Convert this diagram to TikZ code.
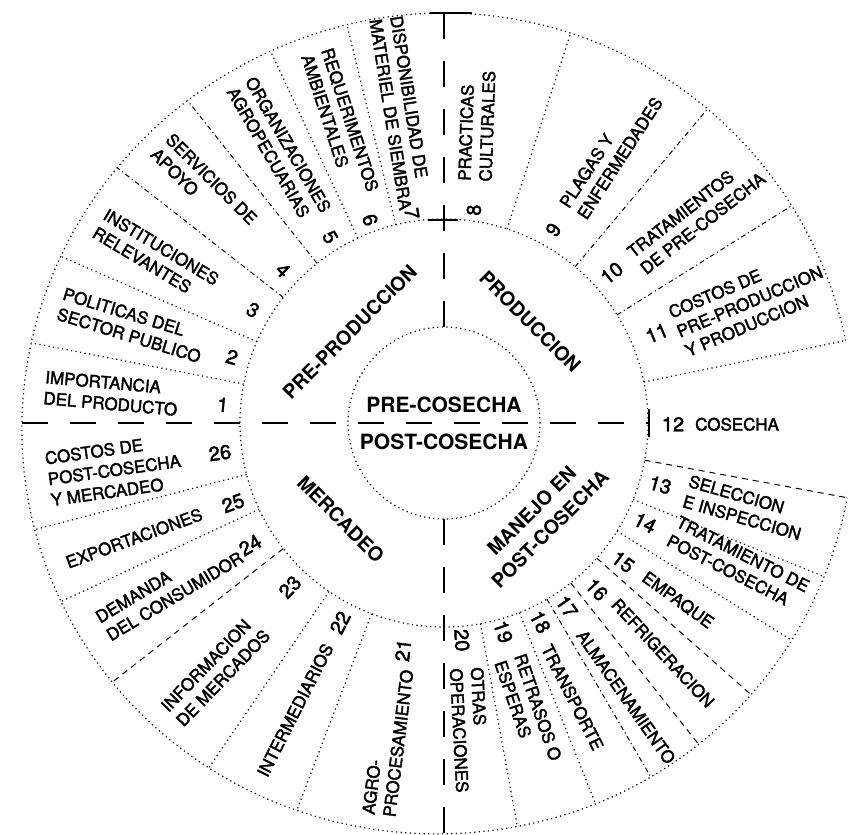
\documentclass[tikz,border=0pt]{standalone}
\usepackage{fontspec}
\setmainfont{TeX Gyre Heros}
\newfontfamily\segf[FakeBold=2]{TeX Gyre Heros}
\begin{document}
\begin{tikzpicture}[x=1pt,y=1pt,
  declare function={Ro(\t)=410+13*(max(0,cos(\t-195)))^2;},
  seg/.style={font=\segf\fontsize{17}{21}\selectfont, inner sep=0pt, align=left},
  num/.style={font=\segf\fontsize{20}{22}\selectfont, inner sep=0pt},
  quad/.style={font=\bfseries\fontsize{19.5}{26}\selectfont, inner sep=0pt, align=center},
  ctr/.style={font=\bfseries\fontsize{21}{24}\selectfont, inner sep=0pt},
  dotl/.style={line width=1.2pt, dash pattern=on 1.2pt off 3.4pt},
  dashl/.style={line width=1pt, dash pattern=on 6pt off 5pt},
  ddl/.style={line width=1pt, dash pattern=on 5pt off 3pt on 1.2pt off 3pt},
  crossl/.style={line width=2pt, dash pattern=on 26pt off 22pt},
  tickl/.style={line width=1.6pt}
]
\useasboundingbox (-444,-412) rectangle (410,423);

% circles
\draw[dotl] (0,0) circle[radius=96];
\draw[dotl] (0,0) circle[radius=204];
\draw[dotl] plot[domain=11.6:349.5, samples=240] (\x:{Ro(\x)});

% radial dividers
\foreach \a/\s in {169/dotl,156.5/dotl,142/ddl,128.5/ddl,115/dotl,103.7/dotl,
  72/dotl,50/ddl,32/ddl,11.6/dotl,-10.5/dashl,-22/dotl,-32/dotl,-41.5/dashl,
  -51.6/dashl,-59.7/ddl,-68.3/dotl,-79.7/dotl,249.2/dotl,235.7/dotl,218/dashl,
  205/dotl,194.6/dotl}
  \draw[\s] (\a:204) -- (\a:{Ro(\a)});

% main cross
\draw[crossl] (180:{Ro(180)}) -- (0:205);
\draw[crossl] (90:96) -- (90:{Ro(90)});
\draw[crossl] (270:96) -- (270:{Ro(270)});
\draw[tickl] (-14,{Ro(90)}) -- (28,{Ro(90)});
\draw[tickl] (-16,203) -- (14,203);
\draw[tickl] (205,-14) -- (205,14);

% centre
\node[ctr] (pre) at (0,18) {PRE-COSECHA};
\node[ctr] (post) at (0,-19) {POST-COSECHA};

% quadrant labels
\node[quad, rotate=45] (qpre) at (136:131) {PRE-PRODUCCION};
\node[quad, rotate=-45] (qpro) at (49.6:133) {PRODUCCION};
\node[quad, rotate=-45] (qmer) at (223:141) {MERCADEO};
\node[quad, rotate=45] (qman) at (-45:137) {MANEJO EN\\POST-COSECHA};

% segments: upper left
\node[seg, rotate=-5] (s1) at (174.9:334) {IMPORTANCIA\\DEL PRODUCTO};
\node[num, rotate=-5] (n1) at (175.3:222) {1};
\node[seg, rotate=-17] (s2) at (162.6:327) {POLITICAS DEL\\SECTOR PUBLICO};
\node[num, rotate=-17] (n2) at (162.7:222) {2};
\node[seg, rotate=-31] (s3) at (149.9:333) {INSTITUCIONES\\RELEVANTES};
\node[num, rotate=-31] (n3) at (149.4:222) {3};
\node[seg, rotate=-45] (s4) at (135.4:337) {SERVICIOS DE\\APOYO};
\node[num, rotate=-45] (n4) at (136.5:222) {4};
\node[seg, rotate=-60] (s5) at (121.1:319) {ORGANIZACIONES\\AGROPECUARIAS};
\node[num, rotate=-60] (n5) at (121.5:218) {5};
\node[seg, rotate=-72] (s6) at (109.1:317.5) {REQUERIMENTOS\\AMBIENTALES};
\node[num, rotate=-72] (n6) at (110:216) {6};
\node[seg, rotate=-81] (s7) at (97.9:313) {DISPONIBILIDAD DE\\MATERIEL DE SIEMBRA};
\node[num, rotate=-81] (n7) at (98.7:212) {7};

% upper right
\node[seg, rotate=88] (s8) at (83.7:299) {PRACTICAS\\CULTURALES};
\node[num, rotate=88] (n8) at (82:215) {8};
\node[seg, rotate=57] (s9) at (58.3:318) {PLAGAS Y\\ENFERMEDADES};
\node[num, rotate=57] (n9) at (60.5:222) {9};
\node[seg, rotate=38] (s10) at (39.5:327) {TRATAMIENTOS\\DE PRE-COSECHA};
\node[num, rotate=38] (n10) at (41.8:225) {10};
\node[seg, rotate=23] (s11) at (21.65:329) {COSTOS DE\\PRE-PRODUCCION\\Y PRODUCCION};
\node[num, rotate=23] (n11) at (22.9:231) {11};
\node[seg, anchor=west] (s12) at (-0.3:251) {COSECHA};
\node[num] (n12) at (-0.3:229) {12};

% lower right
\node[seg, rotate=-16] (s13) at (-15.7:312.6) {SELECCION\\E INSPECCION};
\node[num, rotate=-16] (n13) at (-16:225) {13};
\node[seg, rotate=-27] (s14) at (-25.5:326) {TRATAMIENTO DE\\POST-COSECHA};
\node[num, rotate=-27] (n14) at (-26.4:224.5) {14};
\node[seg, rotate=-36] (s15) at (-37.1:293.4) {EMPAQUE};
\node[num, rotate=-36] (n15) at (-37.8:226.6) {15};
\node[seg, rotate=-47] (s16) at (-46.4:317.6) {REFRIGERACION};
\node[num, rotate=-47] (n16) at (-47.5:226) {16};
\node[seg, rotate=-55] (s17) at (-56.4:329) {ALMACENAMIENTO};
\node[num, rotate=-55] (n17) at (-56.2:221) {17};
\node[seg, rotate=-63] (s18) at (-64.9:303) {TRANSPORTE};
\node[num, rotate=-63] (n18) at (-64.2:221) {18};
\node[seg, rotate=-71] (s19) at (-73.7:299.6) {RETRASOS O\\ESPERAS};
\node[num, rotate=-71] (n19) at (-74.2:217) {19};
\node[seg, rotate=-87] (s20) at (-85.2:308) {OTRAS\\OPERACIONES};
\node[num, rotate=-87] (n20) at (-85.3:218) {20};

% lower left
\node[seg, rotate=83] (s21) at (260:324) {AGRO-\\PROCESAMIENTO};
\node[num, rotate=83] (n21) at (259.8:231) {21};
\node[seg, rotate=63] (s22) at (242.6:323.4) {INTERMEDIARIOS};
\node[num, rotate=63] (n22) at (242.5:225) {22};
\node[seg, rotate=46] (s23) at (227.3:337) {INFORMACION\\DE MERCADOS};
\node[num, rotate=46] (n23) at (226.8:225) {23};
\node[seg, rotate=31] (s24) at (210.9:320) {DEMANDA\\DEL CONSUMIDOR};
\node[num, rotate=31] (n24) at (212.2:229) {24};
\node[seg, rotate=20] (s25) at (200.4:330.6) {EXPORTACIONES};
\node[num, rotate=20] (n25) at (200.8:225.6) {25};
\node[seg, rotate=8] (s26) at (188.1:333) {COSTOS DE\\POST-COSECHA\\Y MERCADEO};
\node[num, rotate=8] (n26) at (187.6:226) {26};
\end{tikzpicture}
\end{document}
